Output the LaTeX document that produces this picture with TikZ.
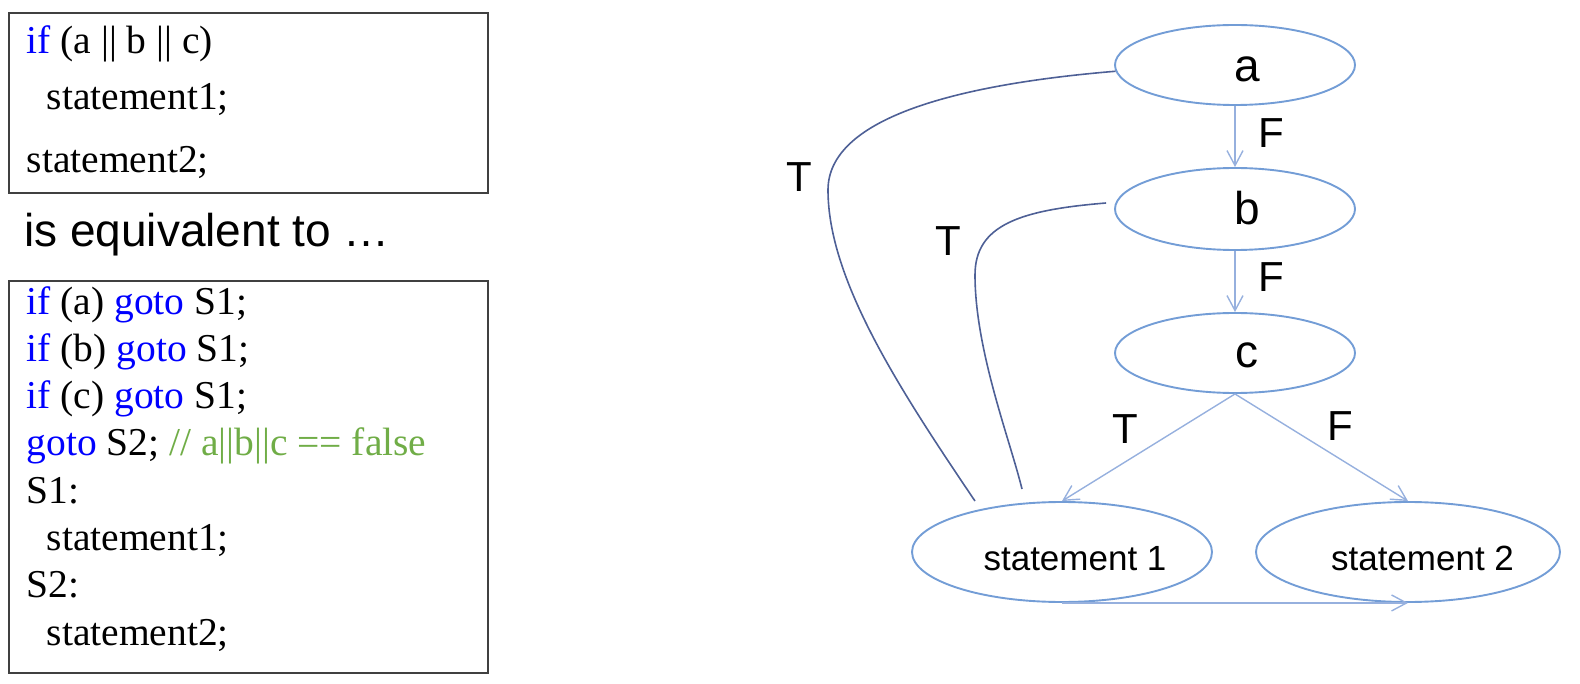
\documentclass[tikz,border=0pt]{standalone}
\usepackage{fontspec}
\setmainfont{Liberation Serif}
\newfontfamily\arialf{Liberation Sans}
\usetikzlibrary{arrows.meta,shapes.geometric}
\definecolor{kw}{RGB}{0,0,255}
\definecolor{cmt}{RGB}{112,173,71}
\definecolor{ellc}{RGB}{115,157,214}
\definecolor{arrc}{RGB}{150,176,222}
\definecolor{tcurve}{RGB}{78,96,150}
\definecolor{boxc}{RGB}{64,64,64}
\begin{document}
\begin{tikzpicture}[x=1pt,y=-1pt,
  codebox/.style={draw=boxc,line width=1.6pt},
  code/.style={anchor=base west,inner sep=0pt,font=\fontsize{39.5}{47}\selectfont},
  eqtext/.style={anchor=base west,inner sep=0pt,font=\arialf\fontsize{46}{55}\selectfont},
  ell/.style={draw=ellc,ellipse,line width=1.9pt,inner sep=0pt},
  elltext/.style={anchor=base,inner sep=0pt,font=\arialf\fontsize{46}{55}\selectfont},
  sttext/.style={anchor=base,inner sep=0pt,font=\arialf\fontsize{35}{42}\selectfont},
  tf/.style={anchor=base,inner sep=0pt,font=\arialf\fontsize{42}{50}\selectfont},
  flow/.style={draw=arrc,line width=1.4pt,-{Straight Barb[length=15pt,width=16pt]}},
  tline/.style={draw=tcurve,line width=1.6pt},
]
\path[use as bounding box] (0,0) rectangle (1580,684);

% code boxes
\draw[codebox] (9,13) rectangle (488,193);
\draw[codebox] (9,281) rectangle (488,673);

\node[code] (l1) at (26.5,54) {\textcolor{kw}{if} (a || b || c)};
\node[code] (l2) at (46.5,110) {statement1;};
\node[code] (l3) at (26.5,173) {statement2;};

\node[eqtext] (eq) at (24,247) {is equivalent to …};

\node[code] (m1) at (26.5,315) {\textcolor{kw}{if} (a) \textcolor{kw}{goto} S1;};
\node[code] (m2) at (26.5,362) {\textcolor{kw}{if} (b) \textcolor{kw}{goto} S1;};
\node[code] (m3) at (26.5,409) {\textcolor{kw}{if} (c) \textcolor{kw}{goto} S1;};
\node[code] (m4) at (26.5,456) {\textcolor{kw}{goto} S2; \textcolor{cmt}{// a||b||c == false}};
\node[code] (m5) at (26.5,503) {S1:};
\node[code] (m6) at (46.5,550) {statement1;};
\node[code] (m7) at (26.5,597) {S2:};
\node[code] (m8) at (46.5,645) {statement2;};

% flow graph nodes
\node[ell,minimum width=240pt,minimum height=80pt] (a) at (1235,65) {};
\node[ell,minimum width=240pt,minimum height=82pt] (b) at (1235,209) {};
\node[ell,minimum width=240pt,minimum height=80pt] (c) at (1235,353) {};
\node[ell,minimum width=300pt,minimum height=100pt] (s1) at (1062,552) {};
\node[ell,minimum width=304pt,minimum height=100pt] (s2) at (1408,552) {};

\node[elltext] (ta) at (1247.5,82) {a};
\node[elltext] (tb) at (1247.5,225) {b};
\node[elltext] (tc) at (1247,368) {c};
\node[sttext] (ts1) at (1075,570) {statement 1};
\node[sttext] (ts2) at (1422.5,570) {statement 2};

% connectors
\draw[flow] (a) -- (b);
\draw[flow] (b) -- (c);
\draw[flow] (c.south) -- (s1.north);
\draw[flow] (c.south) -- (s2.north);
\draw[flow] (s1.south) -- (s2.south);

\draw[tline] (a.183) .. controls (950,85) and (828,120) .. (828,190)
  .. controls (828,280) and (900,390) .. ([xshift=-87pt]s1.north);
\draw[tline] ([xshift=-8pt,yshift=6pt]b.west) .. controls (1020,210) and (975,225) .. (975,275)
  .. controls (975,350) and (1010,440) .. ([xshift=-40pt,yshift=12pt]s1.north);

% labels
\node[tf] (fa) at (1271,148) {F};
\node[tf] (fb) at (1271,292) {F};
\node[tf] (tl1) at (799.5,192) {T};
\node[tf] (tl2) at (948.5,256) {T};
\node[tf] (tl3) at (1125.5,443) {T};
\node[tf] (fc) at (1340,440) {F};
\end{tikzpicture}
\end{document}
